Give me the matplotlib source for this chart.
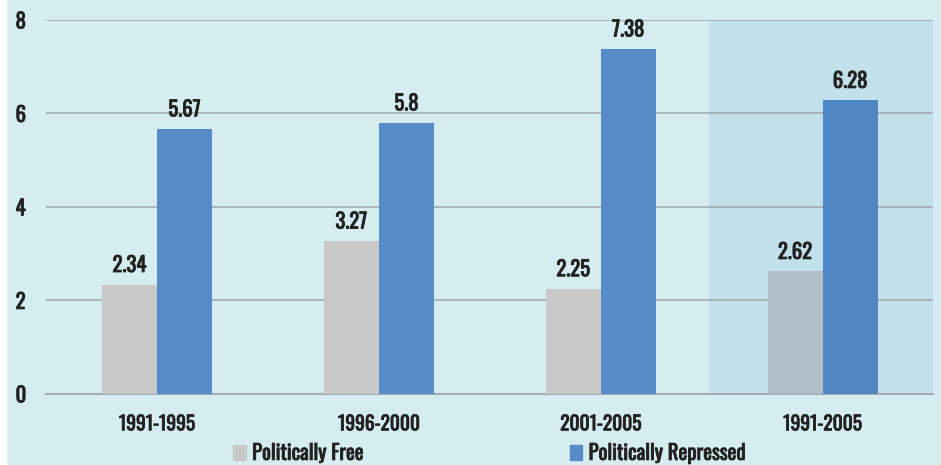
import matplotlib.pyplot as plt
import matplotlib.patheffects as pe
from matplotlib.patches import Patch, Rectangle
import numpy as np

periods = ['1991-1995', '1996-2000', '2001-2005', '1991-2005']
free = [2.34, 3.27, 2.25, 2.62]
repressed = [5.67, 5.8, 7.38, 6.28]
series_names = ['Politically Free', 'Politically Repressed']

plt.rcParams['font.family'] = ['Oswald', 'DejaVu Sans']

bg = '#d5edf1'
txt_col = '#222222'
bold = [pe.withStroke(linewidth=0.6, foreground=txt_col)]

fig = plt.figure(figsize=(9.41, 4.65), dpi=100, facecolor=bg)
# thin white strip on the left edge, as in the source image
fig.patches.append(Rectangle((0, 0), 6 / 941, 1, transform=fig.transFigure,
                             color='white', zorder=-1))
ax = fig.add_axes([0.049, 0.153, 0.943, 0.804])
ax.set_facecolor(bg)

x = np.arange(len(periods))
w = 0.248

# last group is the whole period, shaded
ax.axvspan(2.49, 3.5, color='#c1e0ea', zorder=0, lw=0)

gray_cols = ['#c8c8c8'] * 3 + ['#b1bec8']
blue_cols = ['#588cc8'] * 3 + ['#4f87c5']
ax.bar(x - w / 2, free, w, color=gray_cols, zorder=3)
ax.bar(x + w / 2, repressed, w, color=blue_cols, zorder=3)

for i in range(len(periods)):
    for xi, v in [(x[i] - w / 2, free[i]), (x[i] + w / 2, repressed[i])]:
        ax.annotate(f'{v:g}', (xi, v), xytext=(0, 9), textcoords='offset points',
                    ha='center', va='baseline', fontsize=15, color=txt_col,
                    path_effects=bold)

ax.set_xlim(-0.5, 3.5)
ax.set_ylim(0, 8)
ax.set_yticks([0, 2, 4, 6, 8])
ax.set_xticks(x)
ax.set_xticklabels(periods)
ax.yaxis.grid(True, color='#a3aab2', lw=1.2, zorder=1)
ax.tick_params(axis='both', length=0, labelsize=14, colors=txt_col)
ax.tick_params(axis='y', labelsize=15, pad=22)
ax.tick_params(axis='x', pad=14)
for lab in ax.get_yticklabels():
    lab.set_horizontalalignment('left')
for lab in ax.get_xticklabels() + ax.get_yticklabels():
    lab.set_path_effects(bold)
for s in ['top', 'right', 'left']:
    ax.spines[s].set_visible(False)
ax.spines['bottom'].set_color('#a3aab2')
ax.spines['bottom'].set_linewidth(1.5)

handles = [Patch(color='#c8c8c8'), Patch(color='#588cc8')]
leg = fig.legend(handles, series_names, loc='center left', bbox_to_anchor=(0.228, 0.026),
                 ncol=2, frameon=False, handlelength=0.6, handleheight=0.75,
                 handletextpad=0.3, columnspacing=9.9,
                 prop={'size': 15})
for t in leg.get_texts():
    t.set_color(txt_col)
    t.set_path_effects(bold)

fig.savefig('out.png', dpi=100, facecolor=bg)
